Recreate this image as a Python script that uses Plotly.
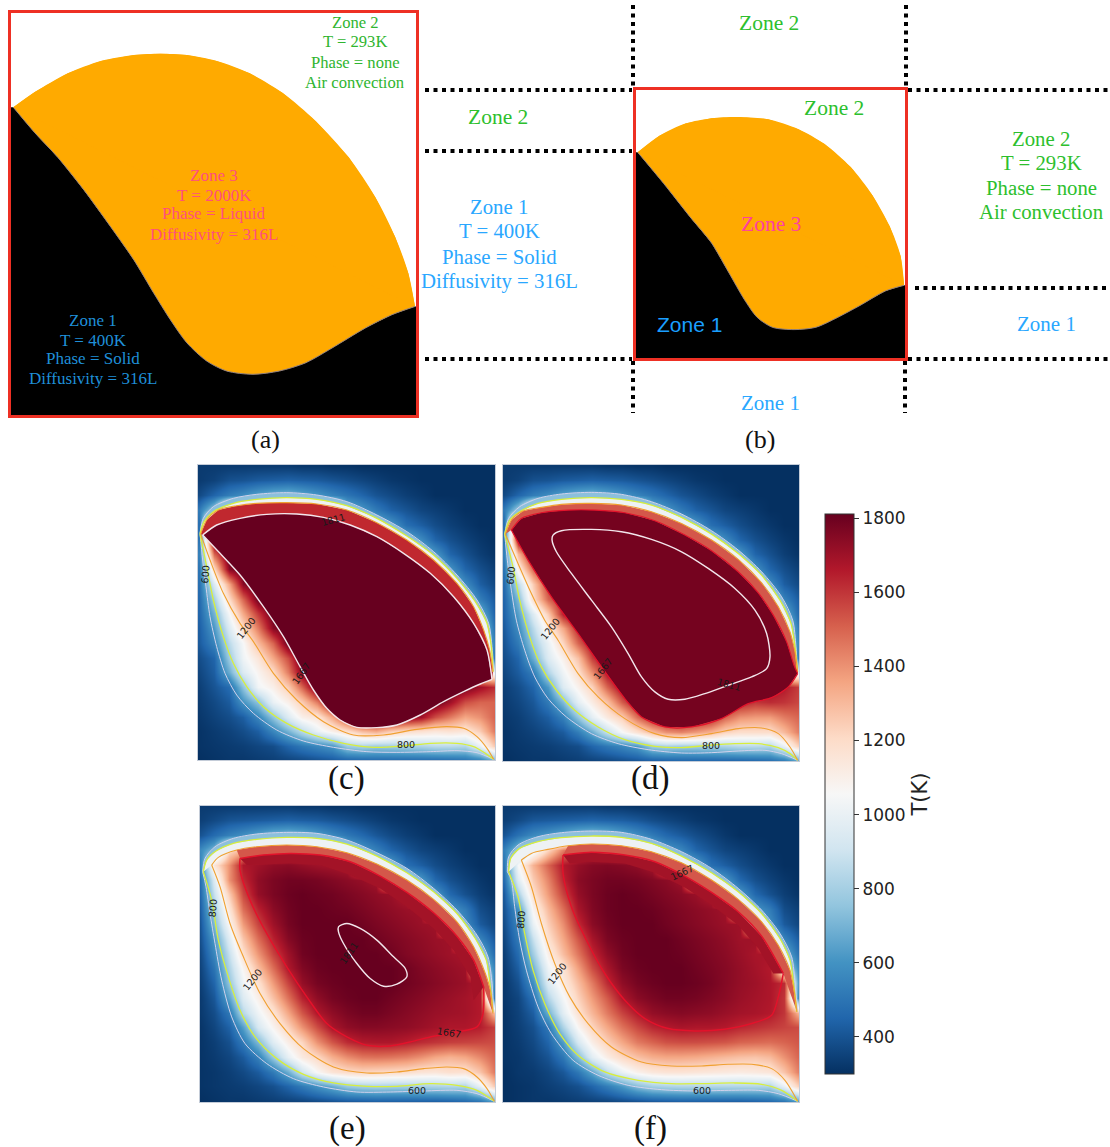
import plotly.graph_objects as go

W, H = 1110, 1147

# ---------- colour scale ----------
RDBU = ["#053061", "#2166ac", "#4393c3", "#92c5de", "#d1e5f0", "#f7f7f7",
        "#fddbc7", "#f4a582", "#d6604d", "#b2182b", "#67001f"]
T_MIN, T_MAX = 300, 1811
CB_TICKS = [400, 600, 800, 1000, 1200, 1400, 1600, 1800]

# ---------- panels (a), (b): melt pool outlines ----------
a_arc = [(35,318),(100,272),(200,215),(300,178),(400,160),(480,156),(560,160),(650,178),(750,215),(850,275),
         (950,360),(1050,470),(1130,590),(1190,710),(1230,820),(1250,920)]
a_bottom = [(1250,920),(1180,945),(1100,985),(1000,1045),(920,1090),(840,1115),(760,1125),(680,1115),(620,1085),
            (560,1030),(510,960),(460,880),(400,780),(330,680),(250,570),(170,470),(100,395),(35,318)]
b_arc = [(490,455),(540,405),(600,368),(660,352),(720,348),(790,355),(860,385),(920,430),(980,500),(1030,585),
         (1070,680),(1095,770),(1103,858)]
b_bottom = [(1103,858),(1060,875),(1000,920),(950,955),(900,985),(850,992),(800,985),(765,955),(735,900),(700,820),
            (660,730),(610,650),(550,550),(490,455)]

# ---------- temperature grids (K), read at evenly spaced nodes ----------
GRID_X = [27,71,116,160,204,249,293,337,381,426,470,514,558,603,647,691,735,780,824,868,912]
GRID_Y = [17,61,106,150,194,239,283,327,371,416,460,504,548,593,637,681,725,770,814,858,902]

T_c = [
[330,330,330,330,330,330,330,320,320,310,310,300,300,300,300,300,300,300,300,300,300],
[330,350,390,400,420,430,440,430,420,400,380,360,340,320,310,300,300,300,300,300,300],
[370,450,530,580,650,700,720,670,610,550,500,450,400,370,340,320,300,300,300,300,300],
[520,800,1350,1500,1600,1650,1650,1600,1500,1350,720,620,520,440,400,360,340,320,300,300,300],
[480,1750,1811,1811,1811,1811,1811,1811,1811,1811,1790,1300,720,620,480,430,380,345,320,300,300],
[500,1811,1811,1811,1811,1811,1811,1811,1811,1811,1811,1811,1800,900,700,580,450,390,350,320,300],
[540,1500,1811,1811,1811,1811,1811,1811,1811,1811,1811,1811,1811,1811,1400,730,620,450,390,340,310],
[500,1200,1750,1811,1811,1811,1811,1811,1811,1811,1811,1811,1811,1811,1811,1500,770,600,450,385,340],
[480,950,1350,1750,1811,1811,1811,1811,1811,1811,1811,1811,1811,1811,1811,1811,1600,750,580,430,370],
[460,800,1200,1500,1800,1811,1811,1811,1811,1811,1811,1811,1811,1811,1811,1811,1811,1600,730,530,420],
[450,700,1050,1350,1600,1811,1811,1811,1811,1811,1811,1811,1811,1811,1811,1811,1811,1811,1500,700,450],
[430,620,950,1200,1450,1750,1811,1811,1811,1811,1811,1811,1811,1811,1811,1811,1811,1811,1811,900,500],
[420,550,850,1050,1300,1500,1811,1811,1811,1811,1811,1811,1811,1811,1811,1811,1811,1811,1811,800,560],
[380,450,780,1020,1150,1350,1550,1811,1811,1811,1811,1811,1811,1811,1811,1811,1811,1811,1811,850,520],
[360,430,680,950,1080,1200,1450,1750,1811,1811,1811,1811,1811,1811,1811,1811,1811,1811,1811,1000,1000],
[340,400,470,750,1030,1100,1250,1500,1800,1811,1811,1811,1811,1811,1811,1811,1811,1811,1790,1700,1620],
[330,370,420,600,750,1000,1100,1250,1450,1750,1811,1811,1811,1811,1811,1811,1811,1700,1550,1500,1500],
[320,350,380,430,560,750,950,1100,1150,1350,1600,1811,1811,1811,1750,1700,1550,1450,1350,1400,1500],
[310,330,350,380,430,560,700,850,1000,1100,1190,1300,1350,1250,1200,1180,1150,1170,1150,1250,1450],
[310,320,330,340,360,380,450,510,560,610,780,810,780,790,800,820,850,850,830,1000,1250],
[300,310,320,320,330,340,350,360,380,400,420,430,440,440,440,440,440,450,470,510,650],
]
T_d = [
[330,330,330,330,330,330,330,320,320,310,310,300,300,300,300,300,300,300,300,300,300],
[330,350,390,400,420,430,440,430,420,400,380,360,340,320,310,300,300,300,300,300,300],
[370,450,530,580,650,700,720,670,610,550,500,450,400,370,340,320,300,300,300,300,300],
[520,800,1300,1450,1550,1600,1600,1550,1450,1300,720,620,520,440,400,360,340,320,300,300,300],
[480,1670,1790,1800,1800,1800,1800,1800,1790,1750,1680,1300,720,620,480,430,380,345,320,300,300],
[500,1700,1790,1811,1811,1811,1811,1811,1811,1811,1811,1790,1740,900,700,580,450,390,350,320,300],
[540,1300,1720,1780,1811,1811,1811,1811,1811,1811,1811,1811,1790,1760,1400,730,620,450,390,340,310],
[500,1100,1500,1740,1790,1811,1811,1811,1811,1811,1811,1811,1811,1790,1770,1500,770,600,450,385,340],
[470,850,1250,1600,1750,1800,1811,1811,1811,1811,1811,1811,1811,1811,1790,1780,1600,750,580,430,370],
[450,720,1190,1500,1660,1770,1811,1811,1811,1811,1811,1811,1811,1811,1811,1790,1770,1600,730,540,420],
[440,640,950,1250,1650,1760,1800,1811,1811,1811,1811,1811,1811,1811,1811,1811,1790,1770,1500,700,450],
[420,580,850,1120,1350,1640,1760,1811,1811,1811,1811,1811,1811,1811,1811,1811,1811,1790,1780,900,500],
[400,520,780,1000,1220,1500,1700,1790,1811,1811,1811,1811,1811,1811,1811,1811,1811,1811,1800,800,560],
[380,450,680,950,1100,1280,1580,1740,1800,1811,1811,1811,1811,1811,1811,1811,1811,1811,1800,850,520],
[360,420,520,820,1020,1180,1400,1670,1790,1811,1811,1811,1811,1811,1811,1811,1811,1811,1800,1000,1000],
[340,380,450,620,950,1090,1230,1500,1710,1780,1811,1811,1811,1811,1800,1770,1730,1700,1700,1660,1580],
[330,360,410,520,720,980,1120,1280,1520,1700,1780,1800,1800,1790,1760,1720,1650,1600,1620,1600,1560],
[320,340,380,430,540,760,980,1130,1250,1480,1650,1730,1740,1720,1650,1500,1400,1380,1380,1450,1500],
[310,330,350,380,420,530,680,880,1050,1170,1300,1400,1430,1380,1320,1230,1190,1190,1190,1300,1450],
[310,320,330,340,360,380,450,510,560,620,780,810,790,790,800,820,850,850,830,1000,1250],
[300,310,320,320,330,340,350,360,380,400,420,430,440,440,440,440,440,450,470,510,650],
]
T_e = [
[330,330,330,330,330,330,330,320,320,310,310,300,300,300,300,300,300,300,300,300,300],
[340,370,400,410,420,430,440,430,420,400,380,360,340,320,310,300,300,300,300,300,300],
[390,470,540,590,650,710,730,700,640,570,510,460,410,370,340,320,300,300,300,300,300],
[560,720,1200,1300,1420,1520,1580,1550,1500,1400,720,620,540,450,400,360,340,320,300,300,300],
[500,1150,1400,1670,1700,1730,1740,1720,1700,1690,1670,1300,720,640,480,430,380,345,320,300,300],
[440,950,1400,1620,1730,1770,1790,1790,1780,1760,1740,1720,1690,900,700,620,460,390,350,320,300],
[420,880,1250,1560,1720,1770,1800,1811,1800,1790,1770,1750,1730,1710,1650,730,620,460,390,340,310],
[400,800,1150,1480,1640,1740,1790,1811,1811,1800,1790,1770,1750,1730,1710,1700,770,610,520,380,340],
[380,720,1060,1380,1570,1700,1780,1811,1811,1811,1811,1790,1770,1750,1730,1710,1700,750,580,420,360],
[370,620,960,1270,1480,1640,1750,1800,1811,1811,1811,1811,1790,1770,1750,1730,1710,1700,730,550,420],
[350,560,880,1180,1390,1570,1700,1790,1811,1811,1811,1811,1811,1790,1760,1740,1720,1700,1680,700,480],
[340,500,820,1080,1290,1480,1667,1760,1800,1811,1811,1811,1811,1811,1790,1760,1740,1720,1700,900,560],
[330,450,760,1020,1170,1380,1570,1720,1780,1800,1811,1811,1811,1811,1790,1770,1750,1730,1710,1660,560],
[320,410,650,950,1100,1280,1470,1640,1730,1780,1800,1811,1811,1790,1770,1750,1730,1710,1690,1660,520],
[320,380,510,840,1020,1160,1350,1530,1667,1730,1770,1790,1790,1770,1750,1730,1710,1700,1690,1660,1300],
[310,360,440,640,930,1080,1230,1400,1550,1680,1730,1750,1750,1740,1730,1710,1690,1670,1670,1650,1580],
[310,340,390,520,720,960,1110,1220,1400,1530,1620,1660,1670,1670,1650,1620,1600,1580,1570,1560,1550],
[310,330,360,420,540,770,990,1130,1210,1330,1410,1460,1470,1460,1440,1400,1350,1320,1350,1420,1500],
[310,320,340,370,420,520,680,900,1060,1160,1200,1220,1210,1200,1190,1160,1150,1180,1170,1270,1450],
[310,320,330,340,360,390,450,520,600,680,770,800,810,800,800,810,820,830,820,1000,1250],
[300,310,320,320,330,340,350,360,380,400,420,430,440,440,440,440,440,450,470,510,650],
]
T_f = [
[330,330,330,330,330,330,330,320,320,310,310,300,300,300,300,300,300,300,300,300,300],
[340,370,410,420,430,440,450,440,430,410,380,360,340,320,310,300,300,300,300,300,300],
[400,490,570,620,680,740,760,730,660,590,520,460,420,380,350,320,300,300,300,300,300],
[540,750,980,1220,1440,1560,1610,1580,1500,1400,720,620,560,450,400,360,340,320,300,300,300],
[510,1050,1320,1500,1660,1720,1750,1760,1750,1730,1680,1300,720,650,480,430,380,345,320,300,300],
[470,960,1250,1430,1630,1740,1770,1790,1790,1780,1760,1740,1700,900,700,620,460,390,350,320,300],
[420,800,1180,1380,1570,1720,1770,1800,1811,1800,1780,1760,1740,1710,1650,730,620,460,390,340,310],
[400,600,1080,1300,1480,1680,1760,1800,1811,1811,1800,1780,1760,1740,1720,1700,770,610,520,380,340],
[380,560,1000,1240,1410,1620,1740,1790,1811,1811,1811,1790,1770,1750,1730,1710,1700,750,580,420,360],
[360,520,880,1180,1350,1530,1680,1770,1800,1811,1811,1811,1790,1770,1750,1730,1700,1700,730,550,420],
[340,470,790,1100,1290,1460,1620,1730,1790,1811,1811,1811,1800,1780,1760,1740,1710,1680,1680,700,480],
[330,430,690,1020,1170,1370,1550,1680,1770,1800,1811,1811,1811,1790,1770,1750,1720,1690,1660,900,560],
[320,390,590,950,1120,1290,1450,1620,1730,1780,1800,1811,1811,1800,1780,1750,1720,1700,1670,1620,560],
[320,360,490,830,1040,1230,1380,1520,1670,1740,1770,1790,1790,1780,1760,1740,1710,1690,1670,1600,520],
[310,350,430,680,970,1170,1310,1450,1570,1660,1720,1740,1750,1740,1730,1710,1690,1680,1660,1600,1300],
[310,340,390,510,820,1070,1220,1350,1470,1560,1630,1660,1680,1670,1670,1660,1630,1610,1590,1570,1550],
[310,330,370,450,630,930,1110,1240,1350,1450,1500,1540,1550,1550,1540,1530,1500,1490,1480,1500,1530],
[310,320,350,400,510,730,970,1110,1210,1280,1330,1350,1350,1340,1320,1300,1280,1270,1300,1400,1500],
[300,320,330,360,410,510,660,860,1000,1090,1140,1160,1160,1150,1140,1130,1120,1130,1150,1270,1450],
[300,310,320,340,360,390,450,530,620,730,800,820,830,830,830,830,830,830,820,1000,1250],
[300,310,320,320,330,340,350,360,380,400,420,430,440,440,440,440,440,450,470,510,650],
]

# ---------- contour lines ----------
c_600 = [(910,630),(905,560),(895,490),(860,420),(800,345),(730,275),(650,215),(560,165),(470,125),(380,105),(290,98),(200,103),(130,115),(70,140),(40,175),(30,220),
         (38,300),(48,380),(60,470),(80,560),(105,640),(140,705),(190,760),(260,810),(340,843),(430,862),(530,875),(620,877),(720,875),(800,872),(860,878),(910,898)]
c_800 = [(908,635),(903,560),(890,490),(855,425),(800,355),(730,285),(650,228),(560,175),(470,137),(380,118),(290,113),(200,118),(130,130),(70,155),(42,185),(30,222),
         (50,320),(70,420),(100,530),(130,610),(170,680),(220,740),(290,790),(370,825),(460,850),(550,862),(640,858),(720,850),(800,850),(850,860),(885,880),(910,898)]
c_1200 = [(908,635),(898,570),(880,510),(850,440),(800,370),(730,300),(650,240),(560,188),(470,150),(380,132),(290,128),(200,130),(140,137),(85,150),(50,180),(32,222),
          (60,300),(100,400),(150,490),(190,545),(250,640),(320,720),(400,785),(490,825),(580,825),(680,808),(770,800),(820,805),(860,830),(890,865),(910,898)]
c_1811 = [(38,225),(80,195),(150,175),(230,163),(320,162),(400,172),(480,195),(560,230),(640,280),(720,340),(790,410),(850,490),(890,570),(905,658),(870,672),(820,695),(760,725),(690,765),(620,795),(560,803),(500,802),(450,780),(410,745),(370,690),(330,620),(280,530),(220,440),(150,345),(90,280),(38,225)]

d_600 = [(907,625),(903,560),(893,480),(860,410),(800,335),(730,270),(650,212),(560,162),(470,125),(380,103),(290,97),(200,102),(130,115),(75,140),(42,175),(30,222),
         (38,300),(50,390),(65,480),(90,570),(120,650),(160,715),(215,770),(290,820),(370,850),(460,868),(560,878),(650,877),(730,872),(810,870),(860,880),(908,900)]
d_800 = [(907,630),(900,560),(888,490),(855,420),(800,345),(730,280),(650,222),(560,172),(470,135),(380,118),(290,113),(200,118),(130,130),(75,155),(45,180),(30,222),
         (55,320),(75,420),(105,530),(140,620),(185,690),(240,750),(310,800),(390,838),(480,858),(560,862),(640,855),(720,850),(790,850),(850,862),(885,880),(908,900)]
d_1200 = [(908,635),(900,575),(885,515),(850,440),(800,368),(730,298),(650,240),(560,190),(470,155),(380,135),(290,130),(200,133),(140,142),(85,153),(50,180),(32,222),
          (70,310),(110,400),(150,480),(190,540),(250,640),(310,710),(390,775),(480,820),(560,832),(650,820),(730,805),(800,803),(850,820),(885,860),(908,900)]
d_1667 = [(908,640),(897,615),(875,545),(835,465),(790,398),(730,335),(650,272),(570,225),(480,182),(390,158),(300,150),(220,150),(140,158),(80,175),(50,210),
          (100,300),(170,410),(250,520),(320,620),(390,715),(440,770),(510,800),(590,800),(680,775),(760,730),(830,712),(880,680),(908,640)]
d_1811 = [(175,225),(200,212),(290,208),(380,215),(470,238),(560,275),(640,325),(720,385),(780,450),(815,520),(825,590),(815,625),(770,650),(700,675),(630,700),(570,717),(520,717),(480,695),(440,650),(400,580),(350,500),(290,420),(230,340),(185,275),(172,240),(175,225)]

e_600 = [(910,635),(905,550),(893,470),(860,405),(800,330),(730,265),(650,205),(560,158),(470,120),(380,100),(290,97),(200,102),(130,115),(75,140),(45,175),(38,215),
         (48,260),(60,340),(75,430),(95,540),(125,650),(165,730),(230,790),(310,835),(400,860),(500,875),(600,875),(700,872),(800,870),(860,880),(912,903)]
e_800 = [(908,635),(900,560),(888,480),(855,415),(800,340),(730,275),(650,218),(560,168),(470,132),(380,115),(290,112),(200,118),(130,130),(78,153),(50,180),(40,215),
         (65,300),(85,420),(115,530),(150,630),(195,710),(260,775),(340,822),(430,848),(530,858),(620,858),(720,850),(800,855),(860,870),(912,903)]
e_1200 = [(908,640),(900,570),(885,520),(850,440),(800,365),(730,298),(650,240),(560,192),(470,158),(380,140),(290,135),(200,140),(140,150),(85,172),(65,195),
          (90,260),(120,370),(160,470),(210,580),(270,670),(340,745),(430,800),(530,818),(620,815),(700,805),(770,800),(820,805),(860,830),(890,865),(912,903)]
e_1667 = [(150,175),(220,165),(300,160),(390,165),(480,185),(570,228),(650,277),(730,338),(800,408),(850,480),(880,560),(878,640),(860,680),(800,695),(720,710),(660,725),(600,737),(530,735),(470,710),(410,670),(350,590),(290,500),(230,400),(180,300),(150,210),(150,175)]
e_1720 = [(850,600),(840,530),(790,450),(730,385),(650,320),(570,265),(480,225),(390,195),(300,190),(170,195)]
e_1811 = [(445,380),(470,370),(510,385),(560,420),(610,470),(645,505),(650,530),(620,552),(580,558),(540,535),(500,490),(460,430),(445,395),(445,380)]

f_600 = [(908,635),(900,550),(890,470),(855,400),(800,330),(730,265),(650,205),(560,155),(470,118),(380,97),(290,93),(200,98),(130,110),(70,135),(42,170),(38,215),
         (50,240),(60,320),(75,420),(95,510),(130,620),(170,700),(235,780),(310,825),(400,855),(500,868),(600,872),(700,870),(790,870),(850,880),(908,903)]
f_800 = [(905,635),(897,560),(885,480),(855,415),(800,340),(730,275),(650,218),(560,168),(470,130),(380,112),(290,108),(200,113),(130,125),(75,145),(48,175),(42,215),
         (70,290),(90,400),(115,510),(150,610),(195,700),(250,765),(330,815),(430,840),(530,850),(620,850),(720,848),(800,852),(860,870),(908,903)]
f_1200 = [(906,635),(897,570),(885,510),(850,435),(800,365),(730,298),(650,240),(560,188),(470,155),(380,137),(290,132),(220,137),(160,148),(110,160),(80,180),
          (110,260),(140,370),(180,490),(225,590),(280,670),(350,740),(440,785),(530,797),(620,797),(700,792),(770,792),(830,805),(870,840),(908,903)]
f_1667 = [(205,165),(280,157),(390,165),(480,185),(570,228),(650,277),(730,335),(800,408),(865,520),(850,590),(830,645),(770,670),(690,687),(600,692),(520,685),(450,655),(390,600),(330,520),(280,430),(230,320),(205,220),(205,165)]
f_1720 = [(835,520),(790,445),(730,375),(650,315),(570,262),(480,218),(390,190),(280,185),(225,190)]

# ---------- contour labels: text, x, y, angle ----------
c_labels = [("600",45,343,-85),("1200",167,505,-52),("1667",333,640,-55),("1811",430,177,-15),("800",648,853,0)]
d_labels = [("600",47,345,-85),("1200",167,505,-52),("1667",325,625,-52),("1811",702,672,15),("800",647,855,0)]
e_labels = [("800",68,325,-85),("1200",187,537,-52),("1811",475,460,-55),("1667",775,697,10),("600",680,872,0)]
f_labels = [("800",78,360,-85),("1200",187,520,-52),("1667",562,217,-25),("600",622,870,0)]

# ---------- text blocks ----------
GREEN, GREEN2, BLUE_A, BLUE_B, PINK_A, PINK_B = "#2fb52f", "#2dbf2d", "#1f8fd8", "#2aa7ff", "#ff4f7e", "#ff40a0"
SERIF, SANS = "Liberation Serif", "Liberation Sans"
zone_text = [
    ("Zone 2",355,23,GREEN,16.6),("T = 293K",355,42,GREEN,16.6),("Phase = none",355,62,GREEN,16.6),("Air convection",355,82,GREEN,16.6),
    ("Zone 3",214,175,PINK_A,17),("T = 2000K",214,195,PINK_A,17),("Phase = Liquid",214,214,PINK_A,17),("Diffusivity = 316L",214,234,PINK_A,17),
    ("Zone 1",93,320,BLUE_A,17),("T = 400K",93,340,BLUE_A,17),("Phase = Solid",93,359,BLUE_A,17),("Diffusivity = 316L",93,379,BLUE_A,17),
    ("Zone 2",769,23,GREEN2,21.5),("Zone 2",498,117,GREEN2,21.5),("Zone 2",834,108,GREEN2,21.5),
    ("Zone 2",1041,138,GREEN2,20.8),("T = 293K",1041,162,GREEN2,20.8),("Phase = none",1041,188,GREEN2,20.8),("Air convection",1041,212,GREEN2,20.8),
    ("Zone 1",499,207,BLUE_B,20.8),("T = 400K",499,231,BLUE_B,20.8),("Phase = Solid",499,256,BLUE_B,20.8),("Diffusivity = 316L",499,281,BLUE_B,20.8),
    ("Zone 3",771,224,PINK_B,21.5),("Zone 1",1046,324,BLUE_B,21),("Zone 1",770,403,BLUE_B,21),
]
panel_letters = [("(a)",265,440,26),("(b)",760,440,26),("(c)",346,778,33),("(d)",650,778,33),("(e)",347,1128,33),("(f)",650,1128,33)]

# ---------- helpers ----------
px = lambda v: v / W
py = lambda v: 1 - v / H
fig = go.Figure()
layout = dict(width=W, height=H, autosize=False, margin=dict(l=0, r=0, t=0, b=0, pad=0),
              paper_bgcolor="white", plot_bgcolor="white", showlegend=False,
              font=dict(family=SERIF), annotations=[], shapes=[])

def axes(n, box, xr, yr, lc, lw):
    l, t, r, b = box
    sfx = "" if n == 1 else str(n)
    common = dict(showgrid=False, zeroline=False, showticklabels=False, ticks="", showline=True,
                  mirror=True, linecolor=lc, linewidth=lw, fixedrange=True)
    layout["xaxis" + sfx] = dict(domain=[px(l), px(r)], range=xr, anchor="y" + sfx, **common)
    layout["yaxis" + sfx] = dict(domain=[py(b), py(t)], range=yr, anchor="x" + sfx, **common)
    return "x" + sfx, "y" + sfx

def xs(p): return [q[0] for q in p]
def ys(p): return [q[1] for q in p]

def curve(ax, pts, color, width, fill=None, shape="spline"):
    fig.add_trace(go.Scatter(x=xs(pts), y=ys(pts), mode="lines", xaxis=ax[0], yaxis=ax[1],
                             line=dict(color=color, width=width, shape=shape, smoothing=0.8),
                             fill="toself" if fill else None, fillcolor=fill, hoverinfo="skip"))

def split_at_tip(pts):
    i = xs(pts).index(min(xs(pts)))
    return pts[:i + 1], pts[i:]

def melt_pool(ax, arc, bottom, xr, yr):
    fig.add_trace(go.Scatter(x=[xr[0], arc[0][0], arc[-1][0], xr[1], xr[1], xr[0], xr[0]],
                             y=[arc[0][1], arc[0][1], arc[-1][1], arc[-1][1], yr[0], yr[0], arc[0][1]],
                             mode="lines", fill="toself", fillcolor="black", line=dict(width=0, color="black"),
                             xaxis=ax[0], yaxis=ax[1], hoverinfo="skip"))
    curve(ax, arc + bottom[1:], ORANGE, 0, fill=ORANGE, shape="linear")
    curve(ax, bottom, ORANGE, 0, fill=ORANGE)
    curve(ax, arc, ORANGE, 0, fill=ORANGE)
    curve(ax, bottom, EDGE, 1)

# ---------- top panels ----------
RED = "#ee3024"
ORANGE, EDGE = "#ffaa00", "#8f7f7f"
ax = axes(1, (11,13,416,415), [28,1253], [1248,33], RED, 2.5)
melt_pool(ax, a_arc, a_bottom, [28,1253], [1248,33])
ax = axes(2, (635.5,89.5,905,358), [485,1105], [1078,265], RED, 2.5)
melt_pool(ax, b_arc, b_bottom, [485,1105], [1078,265])

# ---------- dotted construction lines ----------
dotted = [(425,90,632,90),(908,90,1110,90),(425,151,632,151),(425,359,632,359),(908,359,1110,359),(915,288,1110,288),
          (633,5,633,87),(633,361,633,413),(906,5,906,87),(905,361,905,413)]
for x0, y0, x1, y1 in dotted:
    layout["shapes"].append(dict(type="line", xref="paper", yref="paper", x0=px(x0), y0=py(y0), x1=px(x1), y1=py(y1),
                                 line=dict(color="black", width=4, dash="4px,4.5px")))

# ---------- heat maps ----------
LILAC, YELLOW, AMBER, CRIM, PALE = "#d2d2ec", "#d8ee3c", "#f0a030", "#e3122b", "#f3e6ec"
BAND_BLUE, BAND_WHITE, BAND_SALMON, BAND_RED, BAND_DEEP = "#8cc0dc", "#eef2f4", "#d4574a", "#c0282f", "#a31327"
DARK, DARK2 = "#67001f", "#75031f"
scale = [[i / 10, c] for i, c in enumerate(RDBU)]

def band(ax, outer, inner, color):
    curve(ax, outer + inner, color, 0, fill=color, shape="linear")

panels = [
    (3, (198,465,495,760), [24,914], [900,15], T_c, c_600, c_800, c_1200, c_labels),
    (4, (503,465,799,761), [25,912], [902,15], T_d, d_600, d_800, d_1200, d_labels),
    (5, (200,806,495,1102), [30,914], [905,18], T_e, e_600, e_800, e_1200, e_labels),
    (6, (503,806,799,1102), [25,912], [905,18], T_f, f_600, f_800, f_1200, f_labels),
]
for n, box, xr, yr, z, l600, l800, l1200, labels in panels:
    ax = axes(n, box, xr, yr, "#c4ccd8", 1)
    hm = dict(x=GRID_X, y=GRID_Y, z=z, zmin=T_MIN, zmax=T_MAX, colorscale=scale, zsmooth="best",
              xaxis=ax[0], yaxis=ax[1], hoverinfo="skip", showscale=False)
    if n == 3:
        hm.update(showscale=True, colorbar=dict(
            x=825 / W, xanchor="left", xpad=0, y=py(794), yanchor="middle", ypad=0,
            len=560 / H, lenmode="fraction", thickness=29, thicknessmode="pixels",
            outlinecolor="#333", outlinewidth=1, tickvals=CB_TICKS, ticks="outside", ticklen=5, tickcolor="#333",
            tickfont=dict(family="DejaVu Sans", size=17, color="#222"),
            title=dict(text="T(K)", side="right", font=dict(family="DejaVu Sans", size=21, color="#222"))))
    fig.add_trace(go.Heatmap(**hm))

    u600, lo600 = split_at_tip(l600)
    u800, lo800 = split_at_tip(l800)
    u1200, lo1200 = split_at_tip(l1200)
    band(ax, u600, u800[::-1], BAND_BLUE)
    band(ax, u800, u1200[::-1], BAND_WHITE)

    if n == 3:
        band(ax, u1200, c_1811[:14], BAND_RED)
        curve(ax, c_1811, DARK, 0, fill=DARK, shape="linear")
        inner = [(c_1811[:14], PALE, 1.4), (c_1811[13:], PALE, 1.4)]
    elif n == 4:
        u1667, lo1667 = split_at_tip(d_1667)
        band(ax, u1200, u1667[::-1], BAND_SALMON)
        curve(ax, d_1667, DARK2, 0, fill=DARK2, shape="linear")
        inner = [(u1667, CRIM, 1.2), (lo1667, CRIM, 1.2), (d_1811, PALE, 1.4)]
    elif n == 5:
        band(ax, [p for p in u1200 if p[0] >= 140], e_1667[:11], BAND_SALMON)
        band(ax, e_1720, e_1667[:11], BAND_DEEP)
        inner = [(e_1667[:11], CRIM, 1.5), (e_1667[10:], CRIM, 1.5), (e_1811, PALE, 1.4)]
    else:
        band(ax, [p for p in u1200 if p[0] >= 200], f_1667[:9], BAND_SALMON)
        band(ax, f_1720, f_1667[:9], BAND_DEEP)
        inner = [(f_1667[:9], CRIM, 1.5), (f_1667[8:], CRIM, 1.5)]

    for pts, col, w in [(u600, LILAC, 1), (lo600, LILAC, 1), (u800, YELLOW, 1.3), (lo800, YELLOW, 1.3),
                        (u1200, AMBER, 1.1), (lo1200, AMBER, 1.1)] + inner:
        curve(ax, pts, col, w)
    for txt, lx, ly, ang in labels:
        layout["annotations"].append(dict(text=txt, x=lx, y=ly, xref=ax[0], yref=ax[1], showarrow=False, textangle=ang,
                                          font=dict(family="DejaVu Sans", size=9.5, color="#1a1a1a"),
                                          xanchor="center", yanchor="middle"))

# ---------- texts ----------
for txt, x, y, col, size in zone_text:
    layout["annotations"].append(dict(text=txt, x=px(x), y=py(y), xref="paper", yref="paper", showarrow=False,
                                      font=dict(family=SERIF, size=size, color=col), xanchor="center", yanchor="middle"))
layout["annotations"].append(dict(text="Zone 1", x=px(689), y=py(324), xref="paper", yref="paper", showarrow=False,
                                  font=dict(family=SANS, size=21, color="#1a9fff"), xanchor="center", yanchor="middle"))
for txt, x, y, size in panel_letters:
    layout["annotations"].append(dict(text=txt, x=px(x), y=py(y), xref="paper", yref="paper", showarrow=False,
                                      font=dict(family=SERIF, size=size, color="#111"), xanchor="center", yanchor="middle"))

fig.update_layout(**layout)
fig.write_html("out.html", config=dict(displayModeBar=False),
               post_script="document.body.style.margin='0';document.body.style.overflow='hidden';")
